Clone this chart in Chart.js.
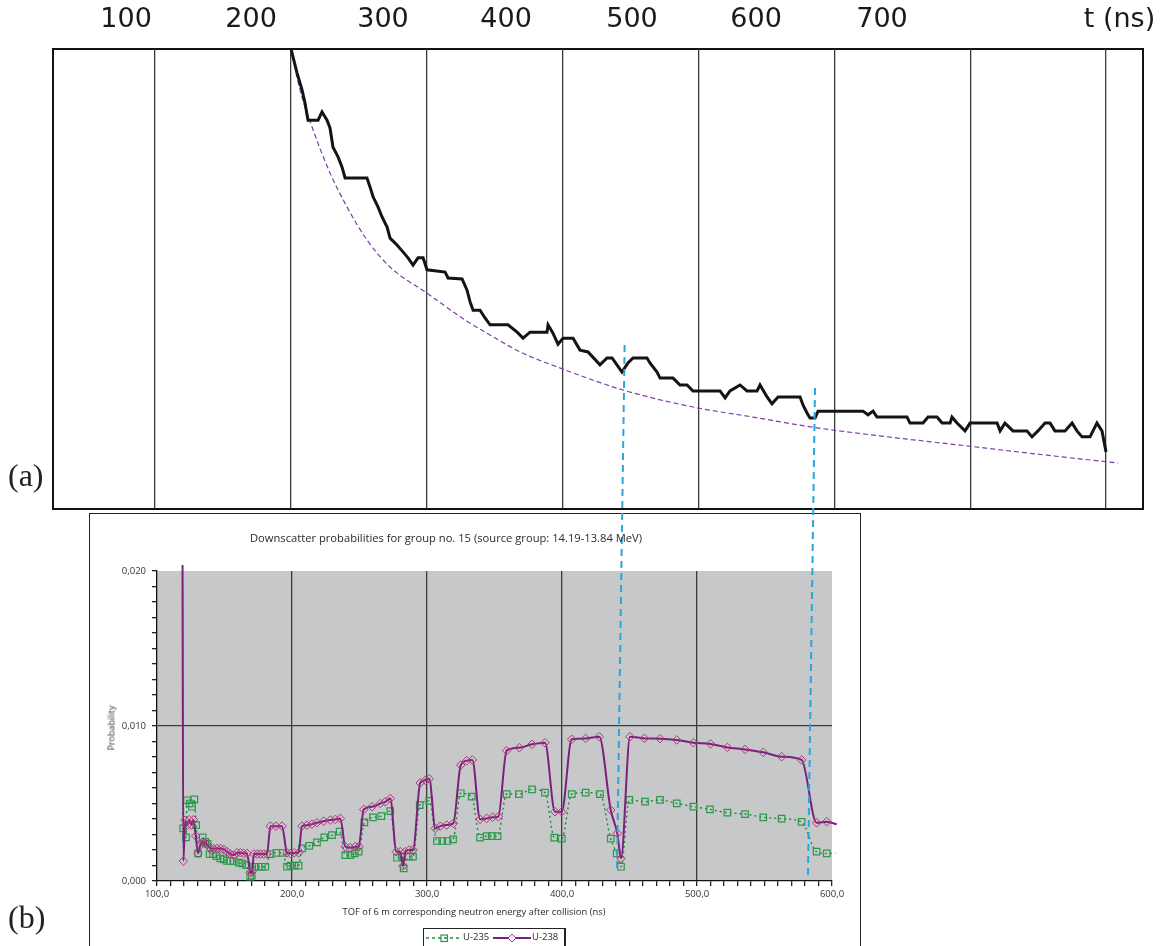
<!DOCTYPE html>
<html>
<head>
<meta charset="utf-8">
<script src="https://cdn.jsdelivr.net/npm/chart.js@4.4.1/dist/chart.umd.min.js"></script>
<style>
  html, body { margin:0; padding:0; background:#fff; width:1168px; height:946px; overflow:hidden; }
  canvas { position:absolute; left:0; top:0; }
  .txt { position:absolute; white-space:nowrap; color:#2a2a2a; font-family:'Open Sans', sans-serif; }
  #frameA { position:absolute; left:52px; top:48px; width:1092px; height:462px; box-sizing:border-box; border:2px solid #111; }
  #frameB { position:absolute; left:89px; top:513px; width:772px; height:500px; box-sizing:border-box; border:1.3px solid #222; border-bottom:none; }
  #legend { position:absolute; left:423px; top:928px; width:143px; height:30px; box-sizing:border-box; border:1px solid #222; border-right:2px solid #222; background:#fff; }
</style>
</head>
<body>
<div id="frameA"></div>
<div id="frameB"></div>
<canvas id="chartA" width="1168" height="946"></canvas>
<canvas id="chartB" width="1168" height="946"></canvas>

<div class="txt" style="left:8px; top:459px; font-family:'Liberation Serif', serif; font-size:32px; line-height:32px; color:#222;">(a)</div>
<div class="txt" style="left:8px; top:901px; font-family:'Liberation Serif', serif; font-size:32px; line-height:32px; color:#222;">(b)</div>
<div class="txt" style="left:446px; top:537px; font-size:11.2px; transform:translate(-50%,-50%);">Downscatter probabilities for group no. 15 (source group: 14.19-13.84 MeV)</div>
<div class="txt" style="left:111px; top:728px; font-size:9px; color:#333; transform:translate(-50%,-50%) rotate(-90deg);">Probability</div>
<div class="txt" style="left:474px; top:911px; font-size:9.4px; transform:translate(-50%,-50%);">TOF of 6 m corresponding neutron energy after collision (ns)</div>
<div id="legend">
  <svg width="140" height="28" style="position:absolute;left:0;top:0;">
    <line x1="2" y1="9" x2="37" y2="9" stroke="#1f8a3a" stroke-width="1.3" stroke-dasharray="3,3"/>
    <rect x="17" y="6" width="6.5" height="6.5" fill="none" stroke="#2a9a4a" stroke-width="1.2"/>
    <line x1="69" y1="9" x2="107" y2="9" stroke="#7b1f7e" stroke-width="2"/>
    <polygon points="88,5 92,9 88,13 84,9" fill="#fff" stroke="#b03a7c" stroke-width="1"/>
  </svg>
  <span class="txt" style="left:39px; top:1px; font-size:9.5px; line-height:14px;">U-235</span>
  <span class="txt" style="left:108px; top:1px; font-size:9.5px; line-height:14px;">U-238</span>
</div>

<script>
// ---------- Panel (a): top time axis ----------
const topTickLabels = ['100', '200', '300', '400', '500', '600', '700', 't (ns)'];
const topTickAt     = [78.7, 170.7, 267.8, 358.4, 451.1, 542.4, 635.1, 809.9];
const gridTimesA    = [100, 200, 300, 400, 500, 600, 700, 800];

// measured staircase trace (time, relative height in % of frame)
const stepTof = [
  200.1, 204.5, 208.2, 210.4, 212.6, 220.0, 222.9, 226.6, 228.8, 231.0,
  234.7, 237.6, 239.9, 256.0, 258.3, 260.5, 264.1, 267.1, 270.8, 273.0,
  278.1, 282.5, 286.2, 289.9, 293.6, 297.3, 300.2, 313.5, 315.7, 326.0,
  329.6, 331.9, 334.1, 339.2, 342.9, 346.6, 359.8, 366.5, 370.9, 376.0,
  388.5, 389.3, 392.9, 396.6, 400.3, 407.7, 412.8, 418.7, 427.5, 432.7,
  436.4, 443.7, 448.1, 451.8, 462.1, 464.3, 469.5, 471.7, 481.3, 486.4,
  491.6, 496.0, 515.9, 519.6, 523.2, 530.6, 535.7, 543.1, 545.3, 550.5,
  554.1, 558.6, 574.8, 577.0, 579.9, 582.1, 585.8, 588.0, 621.1, 624.8,
  628.5, 631.4, 653.5, 655.7, 665.3, 669.0, 675.6, 679.3, 685.2, 686.6,
  690.3, 696.2, 699.9, 719.8, 722.0, 725.6, 731.5, 741.8, 745.5, 749.9,
  755.1, 758.8, 762.4, 769.8, 775.0, 778.6, 782.3, 788.2, 793.3, 797.0,
  800.0
];
const stepCounts = [
  100, 94.8, 91.1, 88.2, 84.5, 84.5, 86.3, 84.5, 82.8, 78.6,
  76.5, 74.3, 71.9, 71.9, 69.9, 67.8, 65.6, 63.4, 61.2, 58.8,
  57.3, 55.8, 54.5, 52.9, 54.5, 54.5, 51.9, 51.4, 50.1, 49.9,
  47.5, 44.9, 43.1, 43.1, 41.4, 39.9, 39.9, 38.3, 37.0, 38.3,
  38.3, 39.9, 38.1, 35.7, 37.0, 37.0, 34.4, 34.0, 31.2, 32.7,
  32.7, 29.6, 31.6, 32.7, 32.7, 31.6, 29.6, 28.3, 28.3, 26.8,
  26.8, 25.5, 25.5, 24.0, 25.5, 26.8, 25.5, 25.5, 26.8, 24.2,
  22.7, 24.2, 24.2, 22.4, 20.7, 19.6, 19.6, 21.1, 21.1, 20.3,
  21.1, 19.8, 19.8, 18.5, 18.5, 19.8, 19.8, 18.5, 18.5, 19.8,
  18.5, 16.8, 18.5, 18.5, 16.8, 18.5, 16.8, 16.8, 15.5, 16.8,
  18.5, 18.5, 16.8, 16.8, 18.5, 16.8, 15.5, 15.5, 18.5, 16.8,
  12.2
];
// dashed fitted curve
const fitTof    = [200.1, 206.7, 216.3, 228.8, 241.3, 256.0, 273.0, 300.2, 329.6, 348.8, 368.7, 398.1, 444.5, 496.0, 540.2, 584.3, 633.6, 698.4, 756.6, 808.8];
const fitCounts = [100, 91.1, 82.4, 73.0, 65.6, 58.4, 52.5, 46.8, 40.7, 37.3, 34.0, 30.5, 25.7, 22.0, 19.8, 17.6, 15.7, 13.5, 11.5, 9.8];

// ---------- Panel (b): downscatter probabilities ----------
const u235Tof = [
  119.0, 119.4, 121.5, 122.2, 124.2, 125.9, 127.7, 129.0, 130.4, 133.8,
  135.8, 137.5, 139.0, 141.5, 144.0, 146.9, 149.4, 151.9, 154.3, 156.8,
  160.5, 163.0, 166.2, 169.1, 170.2, 172.1, 175.3, 177.7, 180.2, 184.0,
  188.4, 193.1, 196.3, 198.8, 201.7, 204.9, 207.4, 212.8, 218.5, 223.9,
  229.6, 235.3, 239.5, 243.2, 246.4, 249.4, 253.6, 260.0, 266.2, 272.8,
  277.8, 281.5, 282.7, 286.4, 289.6, 294.6, 301.7, 307.4, 311.3, 315.3,
  319.3, 325.0, 333.1, 339.3, 344.2, 347.9, 352.3, 359.0, 368.1, 377.8,
  387.4, 394.3, 399.8, 407.2, 417.5, 428.1, 436.1, 440.5, 443.7, 449.9,
  461.5, 472.6, 485.0, 497.3, 509.6, 522.5, 535.6, 549.1, 562.7, 577.5,
  588.6, 596.1, 602.5
];
const u235Prob = [
  0.0186, 0.00339, 0.00281, 0.00521, 0.00500, 0.00479, 0.00526, 0.00360, 0.00178, 0.00281,
  0.00253, 0.00240, 0.00174, 0.00174, 0.00161, 0.00146, 0.00140, 0.00129, 0.00129, 0.00129,
  0.00118, 0.00114, 0.00103, 0.00028, 0.00035, 0.00092, 0.00092, 0.00092, 0.00092, 0.00174,
  0.00182, 0.00182, 0.00092, 0.00099, 0.00099, 0.00099, 0.00210, 0.00227, 0.00249, 0.00281,
  0.00296, 0.00318, 0.00167, 0.00167, 0.00178, 0.00189, 0.00378, 0.00410, 0.00418, 0.00451,
  0.00150, 0.00157, 0.00082, 0.00157, 0.00157, 0.00489, 0.00517, 0.00258, 0.00258, 0.00258,
  0.00268, 0.00566, 0.00544, 0.00280, 0.00290, 0.00290, 0.00290, 0.00561, 0.00561, 0.00591,
  0.00570, 0.00280, 0.00273, 0.00561, 0.00570, 0.00561, 0.00273, 0.00178, 0.00092, 0.00523,
  0.00512, 0.00523, 0.00501, 0.00480, 0.00462, 0.00441, 0.00432, 0.00411, 0.00402, 0.00381,
  0.00189, 0.00178, 0.00178
];
const u238Tof = [
  118.8, 119.5, 120.9, 122.4, 123.9, 125.4, 127.0, 128.7, 130.4, 132.0,
  133.5, 135.3, 137.2, 139.5, 142.0, 144.5, 147.0, 149.4, 151.9, 154.3,
  156.8, 159.3, 161.8, 164.2, 166.7, 169.1, 170.4, 171.8, 174.2, 176.6,
  179.0, 181.5, 184.0, 188.1, 192.6, 196.3, 198.8, 201.7, 204.9, 207.4,
  211.1, 214.8, 218.5, 223.5, 228.4, 232.1, 235.8, 239.5, 243.2, 246.9,
  249.4, 253.1, 259.3, 265.4, 269.1, 272.8, 277.3, 280.2, 282.2, 284.0,
  287.0, 289.6, 295.0, 298.8, 301.7, 306.2, 309.9, 314.6, 319.5, 325.0,
  329.4, 333.6, 339.3, 344.2, 348.6, 352.8, 359.0, 368.4, 377.8, 387.4,
  394.8, 399.8, 407.2, 417.5, 427.6, 436.1, 441.0, 443.7, 450.4, 461.0,
  472.6, 485.0, 497.3, 510.1, 522.5, 535.6, 549.1, 562.7, 577.5, 588.6,
  596.1, 603.5
];
const u238Prob = [
  0.0250, 0.00129, 0.00392, 0.00360, 0.00395, 0.00362, 0.00395, 0.00290, 0.00178, 0.00230,
  0.00250, 0.00245, 0.00235, 0.00212, 0.00208, 0.00210, 0.00210, 0.00204, 0.00189, 0.00174,
  0.00167, 0.00182, 0.00182, 0.00178, 0.00178, 0.00056, 0.00060, 0.00174, 0.00174, 0.00174,
  0.00174, 0.00174, 0.00354, 0.00354, 0.00354, 0.00182, 0.00178, 0.00182, 0.00182, 0.00354,
  0.00360, 0.00367, 0.00376, 0.00386, 0.00393, 0.00397, 0.00403, 0.00221, 0.00215, 0.00221,
  0.00221, 0.00461, 0.00479, 0.00500, 0.00511, 0.00532, 0.00189, 0.00189, 0.00097, 0.00189,
  0.00200, 0.00200, 0.00633, 0.00650, 0.00659, 0.00339, 0.00354, 0.00361, 0.00372, 0.00748,
  0.00776, 0.00781, 0.00398, 0.00404, 0.00411, 0.00415, 0.00841, 0.00860, 0.00882, 0.00892,
  0.00447, 0.00447, 0.00914, 0.00920, 0.00931, 0.00458, 0.00307, 0.00146, 0.00931, 0.00920,
  0.00918, 0.00910, 0.00892, 0.00884, 0.00862, 0.00849, 0.00830, 0.00802, 0.00781, 0.00376,
  0.00383, 0.00366
];
// blue dashed guide lines linking both panels (top end, bottom end)
const linkTopTof     = [446.4, 587.4];
const linkTopProb    = [0.03458, 0.03181];
const linkBottomTof  = [440.7, 582.2];
const linkBottomProb = [0.00052, 0.00026];

const bTickMajorLabels = ['0,000', '0,010', '0,020'];

const pts = (xs, ys) => xs.map((x, i) => ({ x: x, y: ys[i] }));

// ---------------- Chart (a) ----------------
new Chart(document.getElementById('chartA'), {
  type: 'line',
  data: {
    datasets: [
      { data: pts(stepTof, stepCounts), borderColor: '#141414', borderWidth: 3, pointRadius: 0, tension: 0, order: 1 },
      { data: pts(fitTof, fitCounts), borderColor: '#7d3fa3', borderWidth: 1.2, borderDash: [5, 3], pointRadius: 0, cubicInterpolationMode: 'monotone', order: 2 }
    ]
  },
  options: {
    responsive: false, animation: false, events: [], devicePixelRatio: 1,
    layout: { padding: { left: 53, right: 25, top: 0, bottom: 438 } },
    plugins: { legend: { display: false }, tooltip: { enabled: false } },
    scales: {
      x: {
        type: 'linear', position: 'bottom', min: 24.9, max: 827.2,
        afterBuildTicks: s => { s.ticks = gridTimesA.map(v => ({ value: v })); },
        afterFit: s => { s.height = 0; },
        ticks: { display: false },
        grid: { color: '#3a3a3a', lineWidth: 1.3, drawTicks: false },
        border: { display: false }
      },
      xTop: {
        type: 'linear', position: 'top', min: 24.9, max: 827.2,
        afterBuildTicks: s => { s.ticks = topTickAt.map(v => ({ value: v })); },
        afterFit: s => { s.height = 49; },
        ticks: {
          autoSkip: false, maxRotation: 0, padding: 5,
          font: { family: 'DejaVu Sans', size: 27 }, color: '#1a1a1a',
          callback: (v, i) => topTickLabels[i]
        },
        grid: { display: false },
        border: { display: false }
      },
      y: { type: 'linear', display: false, min: 0, max: 100 }
    }
  }
});

// ---------------- Chart (b) ----------------
const plotBg = {
  id: 'plotBg',
  beforeDraw(chart) {
    const { ctx, chartArea: a } = chart;
    ctx.save();
    ctx.fillStyle = '#c7c8ca';
    ctx.fillRect(a.left, a.top, a.right - a.left, a.bottom - a.top);
    ctx.restore();
  }
};

const linkSets = linkTopTof.map((x, i) => ({
  data: [{ x: x, y: linkTopProb[i] }, { x: linkBottomTof[i], y: linkBottomProb[i] }],
  borderColor: '#2aa6de', borderWidth: 2, borderDash: [7, 5], pointRadius: 0, tension: 0, clip: false, order: 0
}));

const markerR = (r) => (c => (c.raw && (c.raw.x > 600 || c.raw.y > 0.012)) ? 0 : r);

new Chart(document.getElementById('chartB'), {
  type: 'line',
  data: {
    datasets: [
      {
        label: 'U-235', data: pts(u235Tof, u235Prob),
        borderColor: '#1f8a3a', borderWidth: 1.4, borderDash: [2, 3],
        pointStyle: 'rect', pointRadius: markerR(4.6), pointBorderColor: '#2a9a4a',
        pointBackgroundColor: 'rgba(0,0,0,0)', pointBorderWidth: 1.2,
        cubicInterpolationMode: 'monotone', clip: { left: 2, top: 6, right: 6, bottom: 3 }, order: 2
      },
      {
        label: 'U-238', data: pts(u238Tof, u238Prob),
        borderColor: '#7b1f7e', borderWidth: 2,
        pointStyle: 'rectRot', pointRadius: markerR(4.3), pointBorderColor: '#b03a7c',
        pointBackgroundColor: 'rgba(0,0,0,0)', pointBorderWidth: 1,
        cubicInterpolationMode: 'monotone', clip: { left: 2, top: 6, right: 6, bottom: 3 }, order: 1
      },
      ...linkSets
    ]
  },
  options: {
    responsive: false, animation: false, events: [], devicePixelRatio: 1,
    layout: { padding: { left: 117, right: 336, top: 571, bottom: 35 } },
    plugins: { legend: { display: false }, tooltip: { enabled: false } },
    scales: {
      x: {
        type: 'linear', min: 100, max: 600,
        afterBuildTicks: s => { const t = []; for (let v = 100; v <= 600; v += 10) t.push({ value: v }); s.ticks = t; },
        afterFit: s => { s.height = 30; },
        ticks: {
          autoSkip: false, maxRotation: 0, padding: 3,
          font: { family: 'Open Sans', size: 9.5 }, color: '#333',
          callback: v => (Math.round(v) % 100 === 0 ? Number(v).toFixed(1).replace('.', ',') : '')
        },
        grid: {
          color: c => (c.tick && Math.round(c.tick.value) % 100 === 0 && c.tick.value > 100 && c.tick.value < 600) ? '#3c3c3c' : 'rgba(0,0,0,0)',
          lineWidth: 1.3, tickColor: '#222', tickLength: 5, drawTicks: true
        },
        border: { color: '#111', width: 1.3 }
      },
      y: {
        type: 'linear', min: 0, max: 0.02,
        afterBuildTicks: s => { const t = []; for (let i = 0; i <= 20; i++) t.push({ value: i / 1000 }); s.ticks = t; },
        afterFit: s => { s.width = 40; },
        ticks: {
          autoSkip: false, padding: 6,
          font: { family: 'Open Sans', size: 9.5 }, color: '#333',
          callback: v => { const k = Math.round(v * 1000); return k % 10 === 0 ? bTickMajorLabels[k / 10] : ''; }
        },
        grid: {
          color: c => (c.tick && Math.round(c.tick.value * 1000) === 10) ? '#3c3c3c' : 'rgba(0,0,0,0)',
          lineWidth: 1.3, tickColor: '#222', tickLength: 5, drawTicks: true
        },
        border: { color: '#111', width: 1.3 }
      }
    }
  },
  plugins: [plotBg]
});
</script>
</body>
</html>
